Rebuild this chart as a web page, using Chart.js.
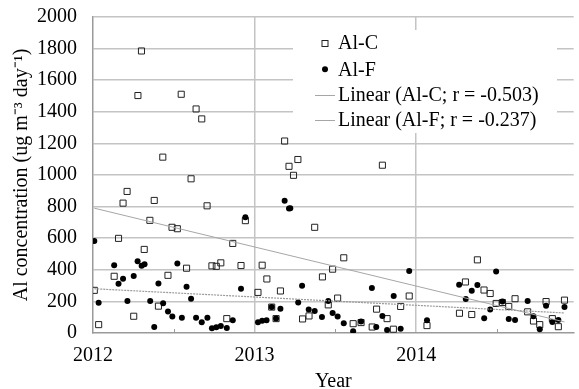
<!DOCTYPE html>
<html>
<head>
<meta charset="utf-8">
<script src="https://cdn.jsdelivr.net/npm/chart.js@4"></script>
<style>
html,body{margin:0;padding:0;background:#fff;}
#wrap{position:relative;width:579px;height:389px;}
</style>
</head>
<body>
<div id="wrap"><canvas id="c"></canvas></div>
<script>
// ---- data (decimal year, Al concentration) ----
const alC_x = [2012.008,2012.035,2012.131,2012.158,2012.186,2012.211,2012.252,2012.278,2012.300,2012.317,2012.352,2012.379,2012.405,2012.432,2012.464,2012.489,2012.522,2012.546,2012.579,2012.607,2012.638,2012.673,2012.706,2012.736,2012.763,2012.791,2012.828,2012.865,2012.916,2012.943,2013.021,2013.047,2013.076,2013.106,2013.133,2013.160,2013.186,2013.213,2013.241,2013.268,2013.297,2013.337,2013.372,2013.420,2013.456,2013.483,2013.514,2013.552,2013.610,2013.659,2013.728,2013.755,2013.791,2013.820,2013.859,2013.904,2013.957,2014.067,2014.268,2014.305,2014.344,2014.379,2014.420,2014.458,2014.495,2014.534,2014.573,2014.612,2014.690,2014.726,2014.765,2014.804,2014.843,2014.880,2014.918];
const alC_y = [270,53,359,599,822,896,106,1503,1785,529,713,839,170,1113,365,669,660,1511,410,976,1418,1355,805,425,422,444,91,567,427,711,257,429,342,164,91,266,1215,1055,998,1098,89,108,669,355,178,404,221,476,59,66,38,151,1062,91,24,168,234,47,125,323,117,463,272,250,187,193,168,217,134,76,53,199,91,40,208];
const alF_x = [2012.008,2012.035,2012.131,2012.158,2012.186,2012.213,2012.252,2012.276,2012.301,2012.319,2012.354,2012.379,2012.405,2012.434,2012.464,2012.491,2012.522,2012.550,2012.579,2012.607,2012.638,2012.673,2012.708,2012.736,2012.763,2012.791,2012.828,2012.865,2012.916,2012.943,2013.021,2013.047,2013.074,2013.106,2013.133,2013.160,2013.186,2013.213,2013.221,2013.270,2013.294,2013.335,2013.372,2013.417,2013.456,2013.483,2013.514,2013.552,2013.610,2013.659,2013.726,2013.753,2013.791,2013.820,2013.861,2013.904,2013.957,2014.067,2014.266,2014.307,2014.344,2014.379,2014.421,2014.458,2014.495,2014.534,2014.573,2014.612,2014.690,2014.726,2014.765,2014.804,2014.843,2014.880,2014.918];
const alF_y = [582,191,429,312,344,202,361,454,425,435,202,38,314,189,136,104,440,97,293,217,96,68,96,30,36,45,32,81,280,733,68,78,81,164,91,153,837,788,790,193,299,148,140,102,202,126,104,62,11,72,285,38,108,19,234,27,393,81,306,215,268,304,94,148,390,199,89,83,202,106,24,172,70,83,164];
// trend lines (start and end)
const trendC_x = [2012.008, 2014.918];
const trendC_y = [790, 70];
const trendF_x = [2012.008, 2014.918];
const trendF_y = [280, 127];
// axes
const xTickValues = [2012, 2012.5, 2013, 2013.5, 2014, 2014.5];
const yTickValues = [0, 200, 400, 600, 800, 1000, 1200, 1400, 1600, 1800, 2000];
const legendLabels = ['Al-C', 'Al-F', 'Linear (Al-C; r = -0.503)', 'Linear (Al-F; r = -0.237)'];

const pts = (xs, ys) => xs.map((x, i) => ({x: x, y: ys[i]}));

Chart.defaults.font.family = "'Liberation Serif', 'Times New Roman', serif";
Chart.defaults.color = '#000';

const GRID = '#c4c4c4';
const AXIS = '#9a9a9a';
const CLEAR = 'rgba(0,0,0,0)';

const halfTicks = {
  id: 'halfTicks',
  afterDatasetsDraw(chart) {
    const {ctx, chartArea, scales} = chart;
    ctx.save();
    ctx.strokeStyle = AXIS;
    ctx.lineWidth = 1;
    xTickValues.filter(v => !Number.isInteger(v)).forEach(v => {
      const px = Math.round(scales.x.getPixelForValue(v)) + 0.5;
      ctx.beginPath();
      ctx.moveTo(px, chartArea.bottom);
      ctx.lineTo(px, chartArea.bottom - 4);
      ctx.stroke();
    });
    ctx.restore();
  }
};

const boxLegend = {
  id: 'boxLegend',
  beforeDatasetsDraw(chart) {
    const ctx = chart.ctx;
    ctx.save();
    ctx.fillStyle = '#fff';
    ctx.fillRect(293, 30, 264, 103);
    const ys = [42.7, 69.3, 95, 120];
    const mx = 325, tx = 338;
    ctx.strokeStyle = '#222';
    ctx.lineWidth = 1;
    ctx.strokeRect(mx - 3, Math.round(ys[0]) - 3 + 0.5, 6, 6);
    ctx.fillStyle = '#000';
    ctx.beginPath();
    ctx.arc(mx, ys[1], 3, 0, Math.PI * 2);
    ctx.fill();
    ctx.strokeStyle = '#a6a6a6';
    [2, 3].forEach(i => {
      ctx.beginPath();
      ctx.moveTo(315, Math.round(ys[i]) + 0.5);
      ctx.lineTo(335, Math.round(ys[i]) + 0.5);
      ctx.stroke();
    });
    ctx.fillStyle = '#000';
    ctx.font = "20px 'Liberation Serif', 'Times New Roman', serif";
    ctx.textBaseline = 'middle';
    ctx.textAlign = 'left';
    legendLabels.forEach((t, i) => ctx.fillText(t, tx, ys[i] + 1));
    ctx.restore();
  }
};

new Chart(document.getElementById('c'), {
  type: 'scatter',
  data: {
    datasets: [
      {
        label: legendLabels[0],
        data: pts(alC_x, alC_y),
        pointStyle: 'rect',
        pointRadius: 4.3,
        pointHoverRadius: 4.3,
        borderColor: '#222',
        backgroundColor: CLEAR,
        pointBorderWidth: 1,
        order: 3
      },
      {
        label: legendLabels[1],
        data: pts(alF_x, alF_y),
        pointStyle: 'circle',
        pointRadius: 3,
        pointHoverRadius: 3,
        borderWidth: 0,
        pointBorderWidth: 0,
        backgroundColor: '#000',
        order: 2
      },
      {
        label: legendLabels[2],
        type: 'line',
        data: pts(trendC_x, trendC_y),
        showLine: true,
        pointRadius: 0,
        borderColor: '#a6a6a6',
        borderWidth: 1,
        fill: false,
        order: 1
      },
      {
        label: legendLabels[3],
        type: 'line',
        data: pts(trendF_x, trendF_y),
        showLine: true,
        pointRadius: 0,
        borderColor: '#9a9a9a',
        borderWidth: 1.2,
        borderDash: [2, 1],
        fill: false,
        order: 0
      }
    ]
  },
  options: {
    responsive: true,
    maintainAspectRatio: false,
    animation: false,
    devicePixelRatio: 1,
    layout: {padding: {left: 17, top: 17, right: 0, bottom: -2}},
    plugins: {legend: {display: false}, tooltip: {enabled: false}},
    scales: {
      x: {
        type: 'linear',
        min: 2012,
        max: 2014.975,
        afterBuildTicks: (s) => { s.ticks = xTickValues.map(v => ({value: v})); },
        ticks: {
          autoSkip: false,
          maxRotation: 0,
          padding: 11,
          font: {size: 20},
          color: '#000',
          callback: (v) => Number.isInteger(v) ? String(v) : ''
        },
        grid: {
          drawTicks: false,
          lineWidth: 1.5,
          color: (c) => (c.tick && Number.isInteger(c.tick.value) && c.tick.value !== 2012) ? GRID : CLEAR
        },
        border: {display: true, color: AXIS, width: 1.5},
        title: {
          display: true,
          text: 'Year',
          font: {size: 20, lineHeight: 1},
          color: '#000',
          padding: {top: -7, bottom: -1}
        }
      },
      y: {
        type: 'linear',
        min: 0,
        max: 2000,
        afterBuildTicks: (s) => { s.ticks = yTickValues.map(v => ({value: v})); },
        ticks: {
          autoSkip: false,
          padding: 0,
          font: {size: 20},
          color: '#000',
          callback: (v) => String(v)
        },
        grid: {
          display: true,
          drawOnChartArea: true,
          drawTicks: true,
          tickLength: 16,
          tickColor: CLEAR,
          lineWidth: 1.5,
          color: (c) => c.tick && c.tick.value === 0 ? CLEAR : GRID
        },
        border: {display: true, color: AXIS, width: 1.5},
        title: {
          display: true,
          text: 'Al concentration (ug m⁻³ day⁻¹)',
          font: {size: 20, lineHeight: 1},
          color: '#000',
          padding: {top: -5, bottom: 5}
        }
      }
    }
  },
  plugins: [boxLegend, halfTicks]
});
</script>
</body>
</html>
